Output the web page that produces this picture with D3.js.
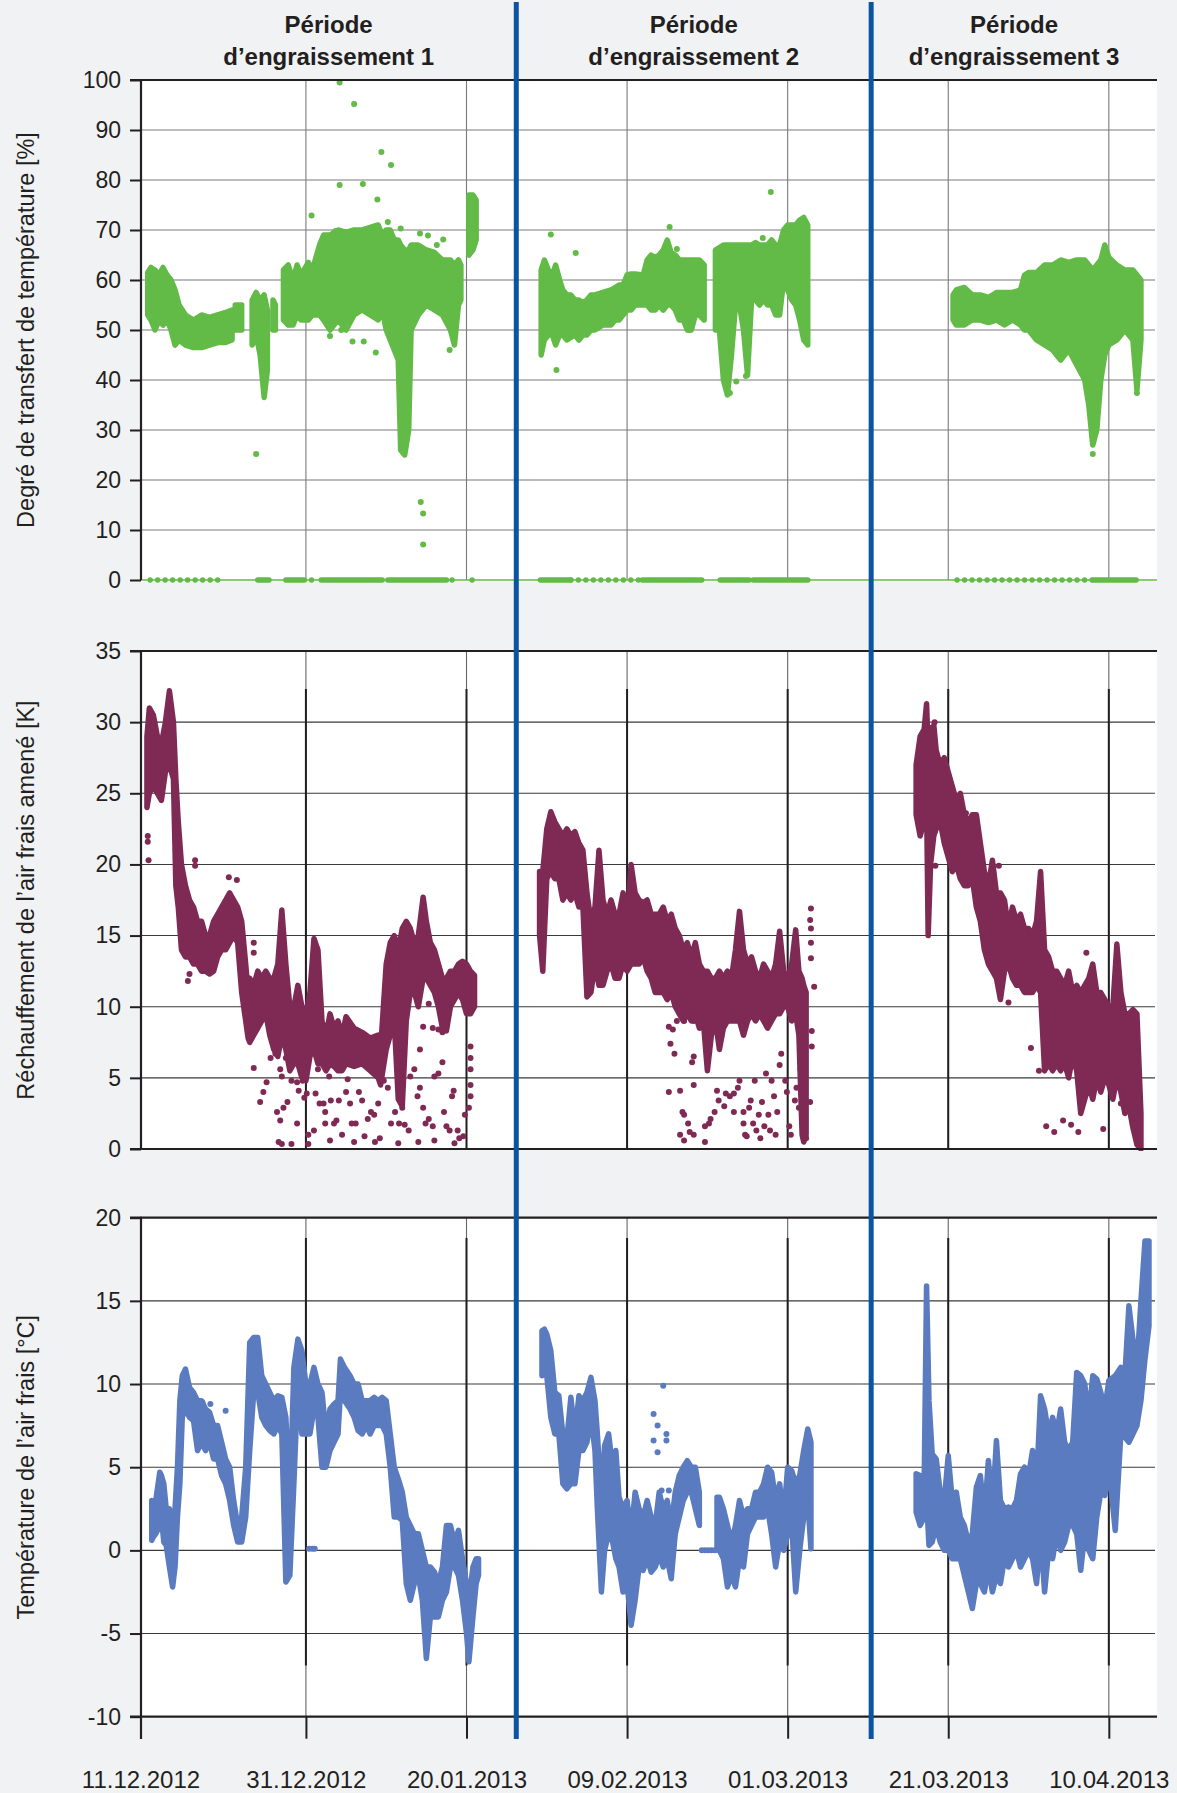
<!DOCTYPE html>
<html><head><meta charset="utf-8">
<script src="https://cdn.jsdelivr.net/npm/d3@7"></script>
<style>
html,body{margin:0;padding:0;background:#f1f2f4;}
svg{display:block;font-family:"Liberation Sans",Arial,Helvetica,sans-serif;}
</style></head><body>
<svg id="chart" width="1177" height="1793"></svg>
<script>
// ---------------- DATA ----------------
const startDate = "11.12.2012";           // day 0 of the series below
const dateTicks = ["11.12.2012","31.12.2012","20.01.2013","09.02.2013","01.03.2013","21.03.2013","10.04.2013"];
const periodLine1 = ["Période","Période","Période"];
const periodLine2 = ["d’engraissement 1","d’engraissement 2","d’engraissement 3"];
const periodBounds = [-0.54, 46.2, 90.4, 126];   // days: axis start, period separators, axis end
const axisTitles = ["Degré de transfert de température [%]","Réchauffement de l’air frais amené [K]","Température de l’air frais [°C]"];
const transferTicks = [0,10,20,30,40,50,60,70,80,90,100];
const warmingTicks = [0,5,10,15,20,25,30,35];
const tempTicks = [-10,-5,0,5,10,15,20];

// rows: [day, low, high]; [null] = gap
const transferP1 = [[0.3,53,61.5],[0.7,52,62.5],[1.2,50,62],[1.7,52,61],[2.2,51,62.5],[2.7,52,61],[3.2,50,60],[3.7,47,58],[4.2,48,55],[5,47,53],[6,46.5,52],[7,46.5,53],[8,47,52.5],[9,47.5,53],[10,47.5,53.5],[10.8,48,54],[null],[11.2,50,55],[12,50,55],[null],[13.3,47,56],[13.8,49,57.5],[14.3,45,56],[14.8,36.5,57],[15.2,42,54],[null],[15.9,50,56],[16.2,50,55],[null],[17.2,52,62],[17.8,51,63],[18.4,51,60],[18.9,53,63],[19.4,52,61],[20.3,52,63.5],[20.8,53,62],[21.7,53,67],[22.2,52,69],[23,50,69],[24,52,70],[25,50,69.5],[26,53,70],[27,54,70],[28,53,70.5],[29,52,71],[29.5,54,69],[30,50,70],[30.5,48,70],[31,46,68],[31.5,44,68],[31.8,26,67],[32.3,25,66],[32.8,30,66],[33.1,50,67],[34,53,67],[35,55,66],[36,54,65.5],[37,53,64],[38,50,64],[38.5,47,63],[39,55,64],[39.3,56,63],[null],[40.3,65,77],[40.8,66,77],[41.2,68,76]];
const transferP2 = [[49.3,45,62],[49.7,48,64],[50.2,49,62],[50.7,49,61],[51.1,47,63],[51.6,49,60],[52,49,58],[52.5,48,57],[53,48.5,57],[53.5,49,56],[54,48,56],[54.5,49,55.5],[55,49,56],[55.5,50,57],[56,50,57],[57,51,57.5],[58,51,58],[58.5,52,58.5],[59,52,59],[59.5,53,59],[60,54,61],[60.5,54,61.2],[61,55,61.2],[62,55,61],[62.5,55,64],[63,54,65],[63.5,54,64.5],[64,55,65],[64.5,54,66],[65,55,68],[65.5,55,65.5],[66,54,65],[66.5,52,64],[67,52,64],[67.5,50,64],[68,50,64],[68.5,53,64],[69,53,64],[69.6,52,63],[null],[71,50,66],[71.5,50,66.5],[72,40,67],[72.5,37,67],[73,45,67],[73.5,55,67],[74,55,67],[74.5,50,67],[75,41,67],[75.5,56,67],[76,56,67.5],[76.5,55,67],[77,56,67],[77.5,55,67],[78,55,68],[78.5,53,67],[79,53,67],[79.5,60,70],[80,58,71],[80.5,56,71],[81,55,71],[81.5,52,72],[82,48,72.5],[82.5,47,71]];
const transferP3 = [[100.6,52,57],[101,51,58],[102,51,58.5],[103,52,57],[104,52,57],[105,51.5,56.5],[106,52,57.5],[107,51,57.5],[108,52,57.5],[109,51,58],[109.5,50,61],[110,50,61.5],[111,48,61.5],[112,47,63],[113,46,63],[114,44,64],[115,46,63.5],[116,43,64],[117,40,64],[117.5,35,63],[118,27,62],[118.5,30,63],[119,40,64],[119.5,45,67],[120,47,64.5],[121,48,63],[122,50,62],[123,48,62],[123.5,38,61],[124,48,60]];
const transferPoints = [[20.7,72.9],[24.2,99.5],[26,95.2],[29.4,85.6],[30.6,83],[24.2,79],[27.1,79.2],[28.9,76.1],[23.7,69.8],[28.3,70],[30.2,71.6],[31.8,70.3],[34.2,69.3],[35.2,68.9],[37.1,68.1],[36.3,67],[13.8,25.2],[34.3,15.6],[34.6,13.3],[34.6,7.1],[23,48.8],[24.4,50],[25.8,47.7],[27.2,47.7],[28.7,45.5],[37.9,46],[51.2,42],[50.5,69.1],[53.6,65.4],[65.3,70.6],[66.2,66.2],[76.9,68.4],[77.9,77.6],[72.8,37.4],[73.6,39.7],[74.8,40.8],[67.7,50],[118,25.2],[123.5,37.4]];
// runs of zero values: [fromDay, toDay, dense(1)/sparse(0)]
const transferZeroRuns = [[0.6,9.7,0],[14,15.4,1],[17.5,19.8,1],[20.7,20.7,0],[21.9,29.5,1],[30.2,37.5,1],[38.2,38.9,0],[40.7,40.7,0],[49.2,53,1],[53,61.9,0],[61.9,69.3,1],[71.6,75.2,1],[75.7,82.5,1],[101.1,118.1,0],[118.1,123.4,1]];

const warmingP1 = [[0.2,24,29],[0.5,25,31],[1,25.5,30.5],[1.5,25,29],[2,24.5,28.5],[2.5,26.5,30],[3,27,32.2],[3.5,26,30],[3.8,18.5,26],[4.1,17,23],[4.5,14,20],[5,13.5,18.5],[5.5,13.5,17.5],[6,13,17],[6.5,13,16],[7,12.5,16],[7.5,12.5,15],[8,12.3,15],[8.5,12.5,16],[9,13.5,16.5],[9.5,14,17],[10,14,17.5],[10.5,14.5,18],[11,15,17.5],[11.5,14.5,17],[12,11,16],[12.5,9,13],[12.8,7.8,11],[13,7.5,12],[13.5,8,11.5],[14,8.5,12.5],[14.5,9,12],[15,9.5,12.5],[15.5,8,12],[16,7,12],[16.5,6.5,13],[17,8,16.8],[17.5,7,13],[18,5.5,10],[18.5,6,10],[19,6,11.5],[19.5,5,10],[20,4.8,9.5],[20.5,6.5,11],[21,7,14.8],[21.5,6,14],[22,6,9],[22.5,5.5,8],[23,6,9.5],[23.5,5.8,8.5],[24,5.5,9],[24.5,5.5,8],[25,6,9.3],[26,5.8,8.5],[27,6,8.2],[28,5.5,7.8],[29,5,8],[29.3,4.5,7],[30,7,13],[30.5,8,14.5],[31,9,15],[31.5,3.5,14],[32,3,15.5],[32.5,9,16],[33,11,15.5],[33.5,11,14.5],[34,10,15],[34.6,12,17.7],[35,12,16],[35.5,11.5,14.5],[36,11,14],[36.5,10,13],[37,8.5,12],[37.5,8.3,12],[38,10,12.5],[38.5,10.5,12.5],[39,11,13],[39.5,10.5,13.2],[40,9.5,13],[40.5,9.5,12.5],[41,10,12.2]];
const warmingP2 = [[49.1,15,19.5],[49.5,12.5,19.5],[50,19,22.5],[50.5,19.5,23.7],[51,19,23],[51.5,19,22.5],[52,17.5,22],[52.5,18,22.5],[53,17.5,22],[53.5,18,22.3],[54,17,21.5],[54.5,17,21],[55,10.7,18],[55.5,11,16],[56,13,17],[56.5,11.5,21],[57,11.5,17.5],[57.5,12.5,16.5],[58,13,17.5],[58.5,12,16.5],[59,12,16.5],[59.5,13,18],[60,12.5,16],[60.5,13,20],[61,13,18],[61.5,13,17.5],[62,13.5,17.3],[62.5,12.5,17.5],[63,12,16.5],[63.5,11,16.5],[64,11,16.5],[64.5,11,17],[65,10.5,16],[65.5,11,16.5],[66,10,15.5],[66.5,9.5,15],[67,9,14],[67.5,9.5,14.5],[68,9,13.5],[68.5,9.5,14.5],[69,8.5,13],[69.5,9,12.5],[70,5.5,12.5],[70.5,8,12],[71,9,12],[71.5,7,12.5],[72,8.5,12],[72.5,9,12.5],[73,9,12],[73.5,9,14],[74,9,16.7],[74.5,8,14],[75,9,13],[75.5,9.5,13.5],[76,9,12.5],[76.5,9.5,12],[77,9,13],[77.5,8.5,12.5],[78,9,12],[78.5,9.5,13],[79,9.5,15.3],[79.5,10,12.5],[80,10,12],[80.5,9,13],[81,9.5,15.4],[81.4,8,12.5],[81.8,1,12],[82,0.5,11.5],[82.3,1,11]];
const warmingP3 = [[96,23.5,27],[96.5,22,29],[97,23,29.5],[97.3,24.5,31.3],[97.5,15,28],[97.8,20,28],[98.2,22,29.8],[98.5,22.5,28],[99,23,27],[99.5,21.5,27.5],[100,20.5,26.5],[100.5,19.5,25.5],[101,20,24.5],[101.5,19,25],[102,18.5,23.5],[102.5,18.5,23],[103,19,23.5],[103.5,17,23.5],[104,16,21.5],[104.5,14,19.5],[105,13,18.5],[105.5,12.5,20.3],[106,12,18],[106.5,10.5,18],[107,12.5,17.5],[107.5,13,15.5],[108,12,17],[108.5,11.5,16],[109,11.5,16.5],[109.5,11,15.5],[110,11,15.5],[110.5,11,15],[111,11.5,16],[111.5,11,19.5],[112,5.5,14],[112.5,6,13.5],[113,5.5,12.5],[113.5,6,12.5],[114,5.5,12],[114.5,6,11.5],[115,5,12.5],[115.5,6.5,11],[116,5.5,11.5],[116.5,2.5,11],[117,3.5,11.5],[117.5,4.5,12],[118,3.5,13],[118.5,5,11],[119,4,11],[119.5,5,10.5],[120,4.5,10],[120.5,3.5,10],[121,5,14.4],[121.5,4,11],[122,2.5,9.5],[122.5,3,9.5],[123,1.5,9.8],[123.5,0.3,9.5],[124,0,2.5]];
const warmingPoints = [[0.3,22],[0.3,21.6],[0.4,20.3],[6.2,19.9],[6.2,20.3],[10.4,19.1],[11.4,18.9],[13.5,14.5],[13.5,13.8],[5.3,11.8],[5.5,12.3],
[13.5,5.7],[14.7,4.0],[14.3,3.3],[15.1,4.7],[15.6,6.4],[16.2,6.7],[16.8,5.6],[17.0,5.1],[17.5,6.4],[16.4,2.6],[16.8,2.0],[17.2,2.9],[17.7,3.3],[18.2,4.8],[18.9,4.7],[19.1,4.1],[19.6,4.8],[18.9,1.8],[19.8,3.6],[20.1,3.9],[20.3,1.0],[21.0,1.3],[21.2,3.9],[21.5,5.6],[21.7,3.2],[22.2,3.2],[22.4,2.6],[22.4,1.8],[22.9,5.1],[23.1,3.4],[23.5,1.8],[23.8,2.0],[24.1,3.4],[24.5,1.0],[25.0,4.0],[25.2,4.9],[25.5,3.2],[25.7,1.8],[26.2,1.8],[26.6,4.0],[27.0,3.4],[27.3,0.9],[27.7,2.1],[28.1,2.6],[28.5,2.4],[29.0,3.2],[29.2,0.75],[29.7,4.8],[30.2,4.3],[30.6,1.8],[31.1,2.6],[31.6,1.8],[32.0,2.9],[32.3,1.7],[32.8,1.3],[33.0,5.1],[33.5,5.6],[33.9,3.7],[34.2,4.3],[34.6,2.9],[34.9,1.8],[35.3,2.1],[35.8,1.6],[36.0,5.1],[36.5,5.3],[37.0,6.1],[37.2,2.6],[37.5,1.6],[37.9,1.3],[38.2,3.7],[38.4,4.1],[38.9,1.3],[39.1,0.75],[39.6,0.9],[39.8,2.4],[40.3,2.9],[40.5,3.7],[40.5,4.5],[40.5,5.6],[40.5,6.4],[40.5,7.2],[16.6,0.5],[17.0,0.35],[18.2,0.35],[20.3,0.35],[23.0,0.6],[26.0,0.5],[28.6,0.5],[31.5,0.4],[34.0,0.5],[36.0,0.6],[38.5,0.4],[35.3,10.2],[34.6,8.6],[34.2,7.0],[35.8,8.5],[36.5,8.4],[37.0,8.2],[33.5,11.2],[33.0,12.6],
[65.2,8.6],[65.7,8.4],[66.2,9.0],[67.1,9.0],[68.3,9.0],[65.4,7.4],[65.9,6.7],[65.2,4.0],[66.6,4.1],[68.3,4.5],[68.1,6.1],[68.3,6.5],[66.9,2.6],[67.1,2.4],[67.6,1.8],[66.6,1.0],[67.1,0.6],[67.8,1.2],[68.3,1.0],[69.7,0.5],[69.7,1.6],[70.2,1.8],[70.4,2.1],[70.9,2.6],[71.2,4.1],[71.4,3.4],[72.1,3.0],[72.3,3.9],[72.8,3.7],[73.3,3.9],[73.3,2.6],[73.8,4.3],[74.0,4.8],[74.5,2.6],[74.5,1.8],[74.7,1.0],[74.9,0.9],[75.2,2.9],[75.4,3.4],[75.7,1.8],[75.9,4.8],[76.1,1.3],[76.4,2.4],[76.6,0.75],[76.8,3.3],[77.1,1.6],[77.3,5.3],[77.6,2.4],[77.8,1.3],[78.0,4.8],[78.3,3.7],[78.5,1.0],[78.7,2.6],[79.0,5.9],[79.2,6.7],[79.7,4.8],[79.9,4.0],[80.2,1.6],[80.4,1.0],[80.9,3.4],[81.1,4.3],[81.4,2.9],[81.6,5.6],[81.8,4.7],[82.3,0.75],[82.8,3.3],[83.0,8.3],[83.0,7.2],[83.3,11.4],[82.9,13.4],[82.8,16.1],[82.9,16.9],[65.0,11.3],[65.4,10.7],[67.8,10.2],[68.3,11.3],[82.9,14.5],[82.9,15.5],
[110.3,7.1],[111.3,5.5],[112.2,1.6],[113.2,1.2],[114.3,2.0],[115.3,1.7],[116.2,1.2],[119.3,1.4],[120.5,3.7],[121.5,3.2],[107.5,10.3],[106.3,19.9],[98.4,19.9],[102.2,23.6],[117.2,13.8],[96.1,24],[97.8,29.6],[98.3,30]];

const tempP1 = [[0.8,0.6,3],[1,0.8,2.5],[1.3,1,3],[1.8,1.5,4.7],[2,2,4.5],[2.3,0.5,4],[2.6,0.3,2.5],[3,-1,2.5],[3.4,-2.2,0],[3.7,-1,2.5],[4,2,5],[4.3,4,9],[4.6,8,10.5],[5,8.5,10.9],[5.5,8,9.8],[6,7.8,9.5],[6.5,6,9],[7,6.5,9],[7.5,6,8.5],[8,6.5,8.3],[8.5,5.5,7.5],[9,5.5,7.5],[9.5,4.5,6.5],[10,4,5.5],[10.5,3,5],[11,1.5,3],[11.5,0.5,1.5],[12,0.5,2],[12.5,2,5],[13,6,12.5],[13.5,9.5,12.8],[14,9.5,12.8],[14.5,8,10.5],[15,7.5,10],[15.5,7.2,9.5],[16,7,9],[16.5,7.5,9.3],[17,7,9.2],[17.5,-1.9,8],[18,-1.5,3],[18.5,4,11],[19,10,12.7],[19.5,7,12],[20,7,10],[20.5,7,10],[21,8.5,11],[21.5,8,10],[22,5,9.5],[22.5,5,7],[23,6,8.5],[23.5,6.5,8.8],[24,7,9],[24.3,9.5,11.5],[24.8,9,11],[25.5,8.5,10.5],[26,8,10],[26.5,7.2,10],[27,7,9],[27.5,7.5,9],[28,7,9],[28.5,7.5,9.2],[29,7.5,9],[29.5,7.5,9.2],[30,7,9],[30.5,5,7],[31,2,5],[31.5,2,4.3],[32,1.8,3.5],[32.5,-2,2],[33,-3,1.5],[33.5,-2,1],[34,-1.5,1],[34.5,-3,0],[35,-6.5,-1],[35.5,-4,-1],[36,-4,-1.3],[36.5,-4,-2],[37,-3,-1],[37.5,-2.5,1.5],[38,-1,1.5],[38.5,-1,0.5],[39,-1.5,1.2],[39.5,-3,-0.5],[40,-5,-2],[40.3,-6.7,-3],[40.8,-4,-1],[41.2,-2,-0.5],[41.5,-1.5,-0.5]];
const tempP2 = [[49.4,10.5,13.2],[49.7,11,13.3],[50,10.5,13],[50.5,8,12],[51,7,9.5],[51.5,7,9.3],[52,4,7],[52.5,3.7,6.7],[53,4,9.2],[53.5,4,7],[54,6,9.3],[54.5,6,9],[55,6.5,9.5],[55.5,8,10.4],[56,6,9],[56.3,2.5,7],[56.8,-2.5,3],[57.2,0,6.3],[57.7,1,7],[58.2,0.5,5],[58.6,-0.5,6],[59,-1,3.2],[59.5,-2.5,2.5],[60,-2,3],[60.5,-4.5,1],[61,-3,3.5],[61.5,-1,2.5],[62,-1.2,2],[62.5,-0.5,3],[63,-1.3,2],[63.5,-1,1.5],[64,-0.3,3.5],[64.5,-1,2.5],[65,-0.5,3],[65.5,-1.7,1.5],[66,1,3.5],[66.5,2,4.5],[67,3,5],[67.5,3.5,5.4],[68,3.5,5],[68.5,2.5,5],[69,1.5,3.5],[null],[71.2,0,3.2],[71.5,0,3.2],[72,-0.5,2.5],[72.5,-2.2,1.5],[73,-1.5,0.5],[73.5,-2.2,1.5],[74,-0.5,3],[74.5,-1,2],[75,1,2.5],[75.5,1.5,2.5],[76,2,3.5],[76.5,2,3.5],[77,2,4],[77.5,2.5,5],[78,1,4.7],[78.5,-1,3],[79,0.5,4],[79.5,0,2],[80,1,5],[80.5,1.5,4.8],[81,-2.5,4],[81.5,0,4.5],[82,2,6],[82.5,3,7.3],[82.9,0.1,6.5]];
const tempP3 = [[96,2.3,4.6],[96.5,1.5,4.5],[97,2,4],[97.3,3,15.9],[97.6,0.3,9],[98,0.5,5.8],[98.5,1.5,5.5],[99,0.5,3.5],[99.5,0,3],[100,0,5.7],[100.5,-0.5,3],[101,-0.5,3.5],[101.5,-0.5,2],[102,-1.5,1.5],[102.5,-2.5,0.5],[103,-3.5,1],[103.5,-2,3.8],[104,-2,4.5],[104.5,-2.5,2],[105,-1,5.4],[105.5,-2.5,2.5],[106,-1.5,6.6],[106.5,-2,3],[107,-0.5,2.5],[107.5,-1,2.6],[108,-0.5,2.5],[108.5,0,3],[109,-1,4.6],[109.5,-0.5,5],[110,0,4.5],[110.5,-0.5,6],[111,-2,4],[111.5,1,9.3],[112,-2.5,8.5],[112.5,0,7],[113,-0.5,8],[113.5,1,7],[114,0,8.5],[114.5,0.5,6.5],[115,1.5,6],[115.5,1.5,6.5],[116,1,10.7],[116.5,-1.2,10.5],[117,1,10],[117.5,0,8],[118,-0.5,10.5],[118.5,2,10.3],[119,3.5,9.5],[119.5,3.3,8.5],[120,5,10.2],[120.8,1.2,10.5],[121.5,7,11],[122,6.8,10.5],[122.5,6.5,14.7],[123,7,12.7],[123.5,7.5,11],[124,9,15],[124.5,11.5,18.6],[125,13.5,18.6]];
const tempPoints = [[7.1,8.9],[8.1,8.8],[10,8.4],[20.4,0.1],[20.8,0.1],[21.1,0.1],[64.5,9.9],[63.3,8.2],[63.8,7.5],[64.9,7],[63.3,6.6],[63.8,5.9],[64.9,6.6],[64.3,3.6],[65.2,3.6],[69.3,0],[69.7,0],[70.1,0],[70.5,0],[70.9,0]];

// ---------------- CHART ----------------
const DAY = 864e5;
const parse = d3.utcParse("%d.%m.%Y");
const t0 = parse(startDate);
const dd = d => new Date(t0.getTime() + d * DAY);
const TXT = "#231f20";

const L = 141, R = 1157;
const x = d3.scaleUtc().domain([dd(periodBounds[0]), dd(periodBounds[3])]).range([L, R]);

const svg = d3.select("#chart");
svg.append("rect").attr("width", 1177).attr("height", 1793).attr("fill", "#f1f2f4");

const panels = [
  {top: 80, bot: 580, dom: [0, 100], ticks: transferTicks, title: axisTitles[0], color: "#62bb46",
   bands: [transferP1, transferP2, transferP3], points: transferPoints, hgrid: "#7a7a7a", vthin: "#7a7a7a", thick: null, whiteBot: 582},
  {top: 651, bot: 1149, dom: [0, 35], ticks: warmingTicks, title: axisTitles[1], color: "#7f2a55",
   bands: [warmingP1, warmingP2, warmingP3], points: warmingPoints, hgrid: "#3a3a3a", vthin: "#666", thick: [689, 1149], whiteBot: 1150},
  {top: 1217.7, bot: 1716.7, dom: [-10, 20], ticks: tempTicks, title: axisTitles[2], color: "#5a7bbf",
   bands: [tempP1, tempP2, tempP3], points: tempPoints, hgrid: "#3a3a3a", vthin: "#666", thick: [1238, 1665.5], whiteBot: 1716.7}
];

const gridDates = dateTicks.slice(1).map(parse);

panels.forEach((p, i) => {
  const y = d3.scaleLinear().domain(p.dom).range([p.bot, p.top]);
  const g = svg.append("g");
  g.append("rect").attr("x", L).attr("y", p.top).attr("width", R - L).attr("height", p.whiteBot - p.top).attr("fill", "#fff");

  // horizontal grid
  g.selectAll(".hg").data(p.ticks.filter(v => v !== p.dom[0] && v !== p.dom[1])).join("line")
    .attr("x1", L).attr("x2", R - 2).attr("y1", d => y(d)).attr("y2", d => y(d))
    .attr("stroke", p.hgrid).attr("stroke-width", 1.1);

  // vertical grid
  gridDates.forEach(dt => {
    const gx = x(dt);
    g.append("line").attr("x1", gx).attr("x2", gx).attr("y1", p.top).attr("y2", p.bot)
      .attr("stroke", p.vthin).attr("stroke-width", 1.1);
    if (p.thick) g.append("line").attr("x1", gx).attr("x2", gx).attr("y1", p.thick[0]).attr("y2", p.thick[1])
      .attr("stroke", TXT).attr("stroke-width", 2);
  });

  // data
  const clipId = "clip" + i;
  svg.append("clipPath").attr("id", clipId).append("rect")
    .attr("x", L).attr("y", p.top - 4).attr("width", R - L).attr("height", p.whiteBot - p.top + 5);
  const dg = svg.append("g").attr("clip-path", `url(#${clipId})`);

  if (i === 0) {
    dg.append("line").attr("x1", L).attr("x2", R).attr("y1", y(0)).attr("y2", y(0))
      .attr("stroke", p.color).attr("stroke-width", 1.6);
    dg.selectAll(".zr").data(transferZeroRuns).join("line")
      .attr("x1", d => x(dd(d[0]))).attr("x2", d => x(dd(d[1])))
      .attr("y1", y(0)).attr("y2", y(0))
      .attr("stroke", p.color).attr("stroke-width", 5.5).attr("stroke-linecap", "round")
      .attr("stroke-dasharray", d => d[2] ? null : "0 7.5");
  }

  const area = d3.area()
    .defined(d => d.length > 1)
    .x(d => x(dd(d[0])))
    .y0(d => y(d[1]))
    .y1(d => y(d[2]));
  p.bands.forEach(b => {
    dg.append("path").attr("d", area(b))
      .attr("fill", p.color).attr("stroke", p.color).attr("stroke-width", 5.5)
      .attr("stroke-linejoin", "round");
  });
  dg.selectAll(".pt").data(p.points).join("circle")
    .attr("cx", d => x(dd(d[0]))).attr("cy", d => y(d[1])).attr("r", 3).attr("fill", p.color);

  // axes
  const ax = svg.append("g").attr("transform", `translate(${L},0)`)
    .call(d3.axisLeft(y).tickValues(p.ticks).tickSize(11).tickPadding(9).tickFormat(d => String(d)));
  ax.select(".domain").remove();
  ax.selectAll(".tick line").attr("stroke", TXT).attr("stroke-width", 2);
  ax.selectAll(".tick text").attr("fill", TXT).attr("font-size", 23)
    .attr("font-family", "'Liberation Sans',Arial,sans-serif");

  const axBot = i === 2 ? 1739 : p.bot;
  svg.append("line").attr("x1", L).attr("x2", L).attr("y1", p.top - 1).attr("y2", axBot)
    .attr("stroke", TXT).attr("stroke-width", 2.2);
  svg.append("line").attr("x1", L - 11).attr("x2", R).attr("y1", p.top).attr("y2", p.top)
    .attr("stroke", TXT).attr("stroke-width", 2.2);
  if (i > 0) svg.append("line").attr("x1", L - 11).attr("x2", R).attr("y1", p.bot).attr("y2", p.bot)
    .attr("stroke", TXT).attr("stroke-width", 2.2);

  // axis title
  svg.append("text")
    .attr("transform", `translate(34,${(p.top + p.bot) / 2}) rotate(-90)`)
    .attr("text-anchor", "middle").attr("font-size", 23.5).attr("fill", TXT)
    .text(p.title);
});

// bottom date axis
const xa = svg.append("g").attr("transform", `translate(0,${panels[2].bot})`)
  .call(d3.axisBottom(x).tickValues(dateTicks.map(parse)).tickSize(22).tickPadding(32)
    .tickFormat(d3.utcFormat("%d.%m.%Y")));
xa.select(".domain").remove();
xa.selectAll(".tick line").attr("stroke", TXT).attr("stroke-width", 2);
xa.selectAll(".tick text").attr("fill", TXT).attr("font-size", 24)
  .attr("font-family", "'Liberation Sans',Arial,sans-serif");
// the first date label sits on the y axis, as in the original
xa.select(".tick").attr("transform", `translate(${L},0)`);

// period separators
periodBounds.slice(1, 3).forEach(b => {
  svg.append("line").attr("x1", x(dd(b))).attr("x2", x(dd(b))).attr("y1", 2).attr("y2", 1739)
    .attr("stroke", "#0b55a0").attr("stroke-width", 5);
});

// period titles
periodLine1.forEach((t, k) => {
  const cx = (x(dd(periodBounds[k])) + x(dd(periodBounds[k + 1]))) / 2;
  svg.append("text").attr("x", cx).attr("y", 33).attr("text-anchor", "middle")
    .attr("font-size", 24).attr("font-weight", "bold").attr("fill", TXT).text(t);
  svg.append("text").attr("x", cx).attr("y", 65).attr("text-anchor", "middle")
    .attr("font-size", 24).attr("font-weight", "bold").attr("fill", TXT).text(periodLine2[k]);
});
</script>
</body></html>
